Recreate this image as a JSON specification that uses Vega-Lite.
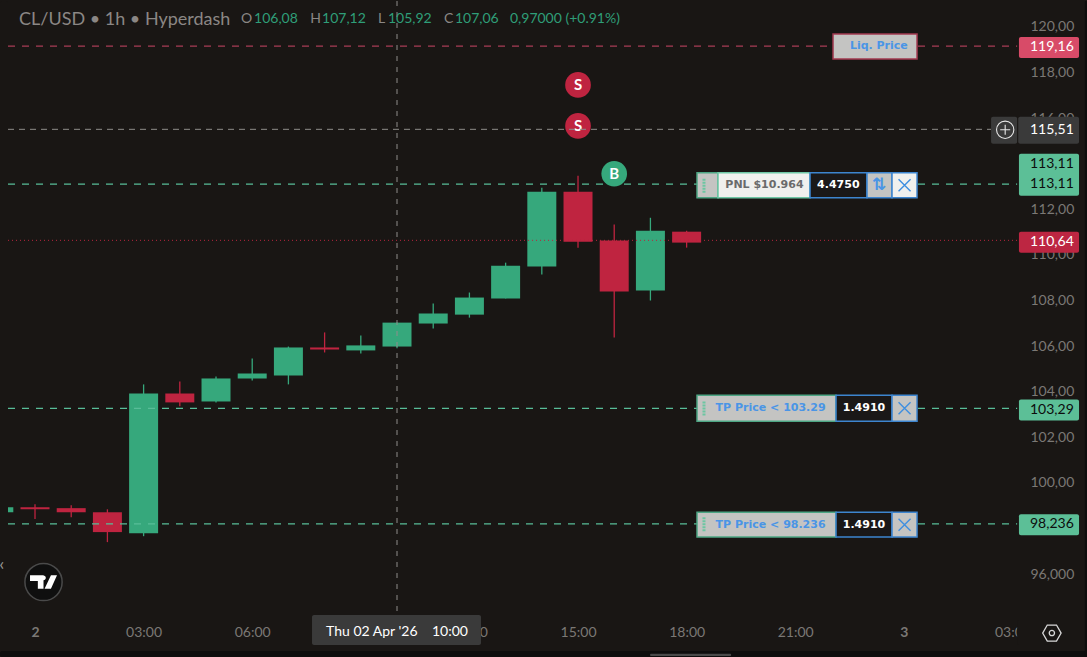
{
"$schema":"https://vega.github.io/schema/vega-lite/v6.json",
"width":1087,"height":657,"padding":0,
"autosize":{"type":"fit","contains":"padding"},
"background":"#191614",
"view":{"stroke":null},
"config":{"axis":{"grid":false,"domain":false,"ticks":false,"title":null}},
"resolve":{"scale":{"color":"independent","fill":"independent","stroke":"independent"}},
"datasets":{
"candles":[
{"h":-1,"open":98.71,"close":98.93,"high":98.93,"low":98.71},
{"h":0,"open":98.93,"close":98.84,"high":99.06,"low":98.41},
{"h":1,"open":98.89,"close":98.71,"high":99.02,"low":98.49},
{"h":2,"open":98.71,"close":97.84,"high":98.84,"low":97.40},
{"h":3,"open":97.79,"close":103.92,"high":104.32,"low":97.66},
{"h":4,"open":103.92,"close":103.53,"high":104.45,"low":103.36},
{"h":5,"open":103.57,"close":104.58,"high":104.67,"low":103.53},
{"h":6,"open":104.58,"close":104.80,"high":105.46,"low":104.49},
{"h":7,"open":104.71,"close":105.94,"high":105.98,"low":104.32},
{"h":8,"open":105.94,"close":105.85,"high":106.60,"low":105.72},
{"h":9,"open":105.81,"close":106.03,"high":106.47,"low":105.68},
{"h":10,"open":105.98,"close":107.03,"high":107.03,"low":105.90},
{"h":11,"open":106.99,"close":107.43,"high":107.87,"low":106.77},
{"h":12,"open":107.38,"close":108.13,"high":108.35,"low":107.25},
{"h":13,"open":108.09,"close":109.53,"high":109.66,"low":108.09},
{"h":14,"open":109.49,"close":112.77,"high":112.95,"low":109.14},
{"h":15,"open":112.77,"close":110.58,"high":113.47,"low":110.32},
{"h":16,"open":110.63,"close":108.39,"high":111.33,"low":106.38},
{"h":17,"open":108.44,"close":111.06,"high":111.63,"low":108.00},
{"h":18,"open":111.02,"close":110.54,"high":111.06,"low":110.32}
],
"levels":[
{"name":"Liq","kind":"liq","p":119.16,"h":-0.746,"h2":27.13},
{"name":"Entry","kind":"green","p":113.11,"h":-0.746,"h2":27.13},
{"name":"TP1","kind":"green","p":103.27,"h":-0.746,"h2":27.13},
{"name":"TP2","kind":"green","p":98.2,"h":-0.746,"h2":27.13}
],
"boxes":[
{"kind":"liq","h":22.044,"h2":24.365,"p":119.69,"p2":118.60},
{"kind":"grip","h":18.287,"h2":18.867,"p":113.60,"p2":112.51},
{"kind":"pnl","h":18.867,"h2":21.409,"p":113.60,"p2":112.51},
{"kind":"qty","h":21.409,"h2":22.983,"p":113.60,"p2":112.51},
{"kind":"arrows","h":22.983,"h2":23.674,"p":113.60,"p2":112.51},
{"kind":"close","h":23.674,"h2":24.365,"p":113.60,"p2":112.51},
{"kind":"grip","h":18.287,"h2":22.127,"p":103.84,"p2":102.70},
{"kind":"qty","h":22.127,"h2":23.674,"p":103.84,"p2":102.70},
{"kind":"arrows","h":23.674,"h2":24.365,"p":103.84,"p2":102.70},
{"kind":"grip","h":18.287,"h2":22.127,"p":98.71,"p2":97.62},
{"kind":"qty","h":22.127,"h2":23.674,"p":98.71,"p2":97.62},
{"kind":"arrows","h":23.674,"h2":24.365,"p":98.71,"p2":97.62}
],
"grips":[
{"h":18.48,"p":113.34,"p2":112.73},
{"h":18.48,"p":103.57,"p2":102.96},
{"h":18.48,"p":98.49,"p2":97.84}
],
"tags":[
{"kind":"liq","h":27.18,"h2":28.84,"p":119.56,"p2":118.64},
{"kind":"cross","h":26.41,"h2":27.13,"p":116.06,"p2":114.88},
{"kind":"cross","h":27.16,"h2":28.84,"p":116.06,"p2":114.88},
{"kind":"green","h":27.18,"h2":28.84,"p":114.44,"p2":112.60},
{"kind":"last","h":27.18,"h2":28.84,"p":111.02,"p2":110.10},
{"kind":"green","h":27.18,"h2":28.84,"p":103.66,"p2":102.74},
{"kind":"green","h":27.18,"h2":28.84,"p":98.62,"p2":97.70},
{"kind":"cross","h":7.652,"h2":12.32,"p":94.20,"p2":92.89},
{"kind":"bg","h":27.13,"h2":28.0,"p":93.98,"p2":92.89},
{"kind":"bg","h":-0.967,"h2":-0.746,"p":121.14,"p2":92.36},
{"kind":"edge","h":-0.967,"h2":29.06,"p":92.62,"p2":92.36},
{"kind":"edge","h":29.0,"h2":29.06,"p":121.14,"p2":92.36},
{"kind":"thumb","h":16.99,"h2":19.23,"p":92.50,"p2":92.40}
],
"signals":[
{"side":"S","h":15,"p":117.46},
{"side":"S","h":15,"p":115.66},
{"side":"B","h":16,"p":113.56}
],
"crossV":[{"h":10,"p":121.14,"p2":94.2}],
"crossH":[{"p":115.51,"h":-0.746,"h2":26.41}],
"lastLine":[{"p":110.64,"h":-0.746,"h2":27.13}],
"header":[
{"t":"CL/USD • 1h • Hyperdash","h":-0.442,"p":120.31}
],
"ohlc":[
{"t":"O","kind":"label","h":5.69,"p":120.33},
{"t":"106,08","kind":"value","h":6.05,"p":120.33},
{"t":"H","kind":"label","h":7.6,"p":120.33},
{"t":"107,12","kind":"value","h":7.93,"p":120.33},
{"t":"L","kind":"label","h":9.475,"p":120.33},
{"t":"105,92","kind":"value","h":9.75,"p":120.33},
{"t":"C","kind":"label","h":11.3,"p":120.33},
{"t":"107,06","kind":"value","h":11.6,"p":120.33},
{"t":"0,97000 (+0.91%)","kind":"value","h":13.12,"p":120.33}
],
"tagText":[
{"t":"119,16","kind":"light","h":28.09,"p":119.13},
{"t":"115,51","kind":"light","h":28.09,"p":115.49},
{"t":"113,11","kind":"dark","h":28.09,"p":114.0},
{"t":"113,11","kind":"dark","h":28.09,"p":113.09},
{"t":"110,64","kind":"light","h":28.09,"p":110.58},
{"t":"103,29","kind":"dark","h":28.09,"p":103.2},
{"t":"98,236","kind":"dark","h":28.09,"p":98.18},
{"t":"Thu 02 Apr '26\u00a0\u00a0\u00a0\u00a010:00","kind":"light","h":10,"p":93.46}
],
"boxText":[
{"t":"Liq. Price","kind":"blue","h":23.31,"p":119.15},
{"t":"PNL $10.964","kind":"grey","h":20.15,"p":113.06},
{"t":"4.4750","kind":"white","h":22.19,"p":113.06},
{"t":"TP Price < 103.29","kind":"blue","h":20.32,"p":103.27},
{"t":"1.4910","kind":"white","h":22.9,"p":103.27},
{"t":"TP Price < 98.236","kind":"blue","h":20.32,"p":98.16},
{"t":"1.4910","kind":"white","h":22.9,"p":98.16}
],
"arrowsIcon":[{"t":"⇅","h":23.31,"p":113.06}],
"closeX":[
{"h":24.02,"p":113.06},
{"h":24.02,"p":103.27},
{"h":24.02,"p":98.16}
],
"plus":[{"h":26.8,"p":115.49}],
"gear":[{"h":28.09,"p":93.41}],
"logo":[{"h":0.235,"p":95.65}],
"back":[{"t":"‹","h":-0.92,"p":96.39}]
},
"layer":[
{"data":{"name":"candles"},
 "mark":{"type":"rule","strokeWidth":1.3,"clip":true},
 "encoding":{
  "x":{"field":"h","type":"quantitative","scale":{"domain":[-0.967,29.06],"nice":false,"zero":false,"padding":0},
   "axis":{"orient":"bottom","offset":-25,"labelPadding":0,"labelBaseline":"middle","labelFont":"Lato","labelFontSize":14,"labelColor":"#7b7875","labelFlush":false,"labelOverlap":false,"values":[0,3,6,9,12,15,18,21,24,27],
    "labelExpr":"datum.value==0?'2':datum.value==24?'3':(datum.value%24<10?'0':'')+(datum.value%24)+':00'",
    "labelFontWeight":{"expr":"datum.value%24==0?'bold':'normal'"}}},
  "y":{"field":"low","type":"quantitative","scale":{"domain":[92.36,121.14],"nice":false,"zero":false},
   "axis":{"orient":"right","offset":-57,"labelPadding":0,"labelAlign":"left","labelFont":"Lato","labelFontSize":14,"labelColor":"#7b7875","labelFlush":false,"labelOverlap":false,"values":[96,98,100,102,104,106,108,110,112,114,116,118,120],
    "labelExpr":"replace(format(datum.value,datum.value<100?'.3f':'.2f'),'.',',')"}},
  "y2":{"field":"high"},
  "color":{"condition":{"test":"datum.close>=datum.open","value":"#36a87c"},"value":"#bf2440"}
 }},
{"data":{"name":"candles"},
 "mark":{"type":"bar","size":29,"orient":"vertical","clip":true},
 "encoding":{
  "x":{"field":"h","type":"quantitative"},
  "y":{"field":"open","type":"quantitative"},
  "y2":{"field":"close"},
  "color":{"condition":{"test":"datum.close>=datum.open","value":"#36a87c"},"value":"#bf2440"}
 }},
{"data":{"name":"levels"},
 "mark":{"type":"rule","strokeWidth":1.3,"strokeDash":[7,7]},
 "encoding":{
  "x":{"field":"h","type":"quantitative"},"x2":{"field":"h2"},
  "y":{"field":"p","type":"quantitative"},
  "color":{"field":"kind","type":"nominal","legend":null,"scale":{"domain":["liq","green"],"range":["#a83d55","#58bd98"]}}
 }},
{"data":{"name":"lastLine"},
 "mark":{"type":"rule","strokeWidth":1,"strokeDash":[1,3],"color":"#b8263f"},
 "encoding":{"x":{"field":"h","type":"quantitative"},"x2":{"field":"h2"},"y":{"field":"p","type":"quantitative"}}},
{"data":{"name":"signals"},
 "mark":{"type":"point","filled":true,"opacity":1,"shape":"circle","size":660},
 "encoding":{"x":{"field":"h","type":"quantitative"},"y":{"field":"p","type":"quantitative"},
  "color":{"condition":{"test":"datum.side=='B'","value":"#36a87c"},"value":"#bf2440"}}},
{"data":{"name":"signals"},
 "mark":{"type":"text","font":"Lato","fontWeight":"bold","fontSize":15,"color":"#ffffff","baseline":"middle","align":"center"},
 "encoding":{"x":{"field":"h","type":"quantitative"},"y":{"field":"p","type":"quantitative"},"text":{"field":"side"}}},
{"data":{"name":"crossH"},
 "mark":{"type":"rule","strokeWidth":1,"strokeDash":[6,5],"color":"#8f8c8a"},
 "encoding":{"x":{"field":"h","type":"quantitative"},"x2":{"field":"h2"},"y":{"field":"p","type":"quantitative"}}},
{"data":{"name":"crossV"},
 "mark":{"type":"rule","strokeWidth":1,"strokeDash":[5,6],"color":"#8f8c8a"},
 "encoding":{"x":{"field":"h","type":"quantitative"},"y":{"field":"p","type":"quantitative"},"y2":{"field":"p2"}}},
{"data":{"name":"boxes"},
 "mark":{"type":"rect","strokeWidth":1.5},
 "encoding":{"x":{"field":"h","type":"quantitative"},"x2":{"field":"h2"},"y":{"field":"p","type":"quantitative"},"y2":{"field":"p2"},
  "fill":{"field":"kind","type":"nominal","legend":null,"scale":{"domain":["liq","grip","pnl","qty","arrows","close"],"range":["#c4c4c2","#c4c4c2","#f0f0ee","#1a1818","#c4c4c2","#f0f0ee"]}},
  "stroke":{"field":"kind","type":"nominal","legend":null,"scale":{"domain":["liq","grip","pnl","qty","arrows","close"],"range":["#a33a50","#4da684","#6ec7a5","#3d85cf","#3d85cf","#3d85cf"]}}
 }},
{"data":{"name":"grips"},
 "mark":{"type":"rule","strokeWidth":3,"strokeDash":[2,1],"color":"#6cc6a2"},
 "encoding":{"x":{"field":"h","type":"quantitative"},"y":{"field":"p","type":"quantitative"},"y2":{"field":"p2"}}},
{"data":{"name":"tags"},
 "mark":{"type":"rect","cornerRadius":2},
 "encoding":{"x":{"field":"h","type":"quantitative"},"x2":{"field":"h2"},"y":{"field":"p","type":"quantitative"},"y2":{"field":"p2"},
  "color":{"field":"kind","type":"nominal","legend":null,"scale":{"domain":["liq","cross","green","last","bg","edge","thumb"],"range":["#d84b68","#3a3a3a","#5cbf97","#bd2642","#191614","#0d0d0d","#4a4a4a"]}}
 }},
{"data":{"name":"header"},
 "mark":{"type":"text","font":"Lato","fontSize":18,"align":"left","baseline":"middle","color":"#8b8785"},
 "encoding":{"x":{"field":"h","type":"quantitative"},"y":{"field":"p","type":"quantitative"},"text":{"field":"t"}}},
{"data":{"name":"ohlc"},
 "mark":{"type":"text","font":"Lato","fontSize":14,"align":"left","baseline":"middle"},
 "encoding":{"x":{"field":"h","type":"quantitative"},"y":{"field":"p","type":"quantitative"},"text":{"field":"t"},
  "color":{"field":"kind","type":"nominal","legend":null,"scale":{"domain":["label","value"],"range":["#8b8785","#2f9e78"]}}}},
{"data":{"name":"tagText"},
 "mark":{"type":"text","font":"Lato","fontSize":14,"align":"center","baseline":"middle"},
 "encoding":{"x":{"field":"h","type":"quantitative"},"y":{"field":"p","type":"quantitative"},"text":{"field":"t"},
  "color":{"field":"kind","type":"nominal","legend":null,"scale":{"domain":["light","dark"],"range":["#ffffff","#0d0d0d"]}}}},
{"data":{"name":"boxText"},
 "mark":{"type":"text","font":"DejaVu Sans","fontWeight":"bold","fontSize":11,"align":"center","baseline":"middle"},
 "encoding":{"x":{"field":"h","type":"quantitative"},"y":{"field":"p","type":"quantitative"},"text":{"field":"t"},
  "color":{"field":"kind","type":"nominal","legend":null,"scale":{"domain":["blue","grey","white"],"range":["#4a95e6","#6b6b6b","#ffffff"]}}}},
{"data":{"name":"arrowsIcon"},
 "mark":{"type":"text","font":"DejaVu Sans","fontWeight":"bold","fontSize":17,"align":"center","baseline":"middle","color":"#4a95e6"},
 "encoding":{"x":{"field":"h","type":"quantitative"},"y":{"field":"p","type":"quantitative"},"text":{"field":"t"}}},
{"data":{"name":"closeX"},
 "mark":{"type":"point","shape":"M-1,-1L1,1M-1,1L1,-1","size":144,"stroke":"#3f8fe0","strokeWidth":1.4,"opacity":1,"filled":false},
 "encoding":{"x":{"field":"h","type":"quantitative"},"y":{"field":"p","type":"quantitative"}}},
{"data":{"name":"plus"},
 "mark":{"type":"point","shape":"circle","size":300,"stroke":"#e8e8e8","strokeWidth":1.1,"opacity":1,"filled":false},
 "encoding":{"x":{"field":"h","type":"quantitative"},"y":{"field":"p","type":"quantitative"}}},
{"data":{"name":"plus"},
 "mark":{"type":"point","shape":"M-1,0L1,0M0,-1L0,1","size":100,"stroke":"#e8e8e8","strokeWidth":1.1,"opacity":1,"filled":false},
 "encoding":{"x":{"field":"h","type":"quantitative"},"y":{"field":"p","type":"quantitative"}}},
{"data":{"name":"gear"},
 "mark":{"type":"point","shape":"M-1,0L-0.5,-0.87L0.5,-0.87L1,0L0.5,0.87L-0.5,0.87Z","size":340,"stroke":"#d8d8d8","strokeWidth":1.3,"opacity":1,"filled":false},
 "encoding":{"x":{"field":"h","type":"quantitative"},"y":{"field":"p","type":"quantitative"}}},
{"data":{"name":"gear"},
 "mark":{"type":"point","shape":"circle","size":28,"stroke":"#d8d8d8","strokeWidth":1.3,"opacity":1,"filled":false},
 "encoding":{"x":{"field":"h","type":"quantitative"},"y":{"field":"p","type":"quantitative"}}},
{"data":{"name":"logo"},
 "mark":{"type":"point","shape":"circle","size":1385,"fill":"#0f0f0f","stroke":"#4a4a4a","strokeWidth":1.5,"opacity":1,"filled":true},
 "encoding":{"x":{"field":"h","type":"quantitative"},"y":{"field":"p","type":"quantitative"}}},
{"data":{"name":"logo"},
 "mark":{"type":"point","shape":"M-1,-0.5L0,-0.5L0,0.5L-0.42,0.5L-0.42,-0.08L-1,-0.08ZM0.17,-0.3A0.17,0.17,0,1,1,0.17,-0.31ZM0.55,-0.5L1,-0.5L0.55,0.5L0.08,0.5Z","size":729,"fill":"#ffffff","filled":true,"opacity":1,"strokeWidth":0},
 "encoding":{"x":{"field":"h","type":"quantitative"},"y":{"field":"p","type":"quantitative"}}},
{"data":{"name":"back"},
 "mark":{"type":"text","font":"Lato","fontSize":18,"align":"center","baseline":"middle","color":"#9a9795","clip":true},
 "encoding":{"x":{"field":"h","type":"quantitative"},"y":{"field":"p","type":"quantitative"},"text":{"field":"t"}}}
]
}
